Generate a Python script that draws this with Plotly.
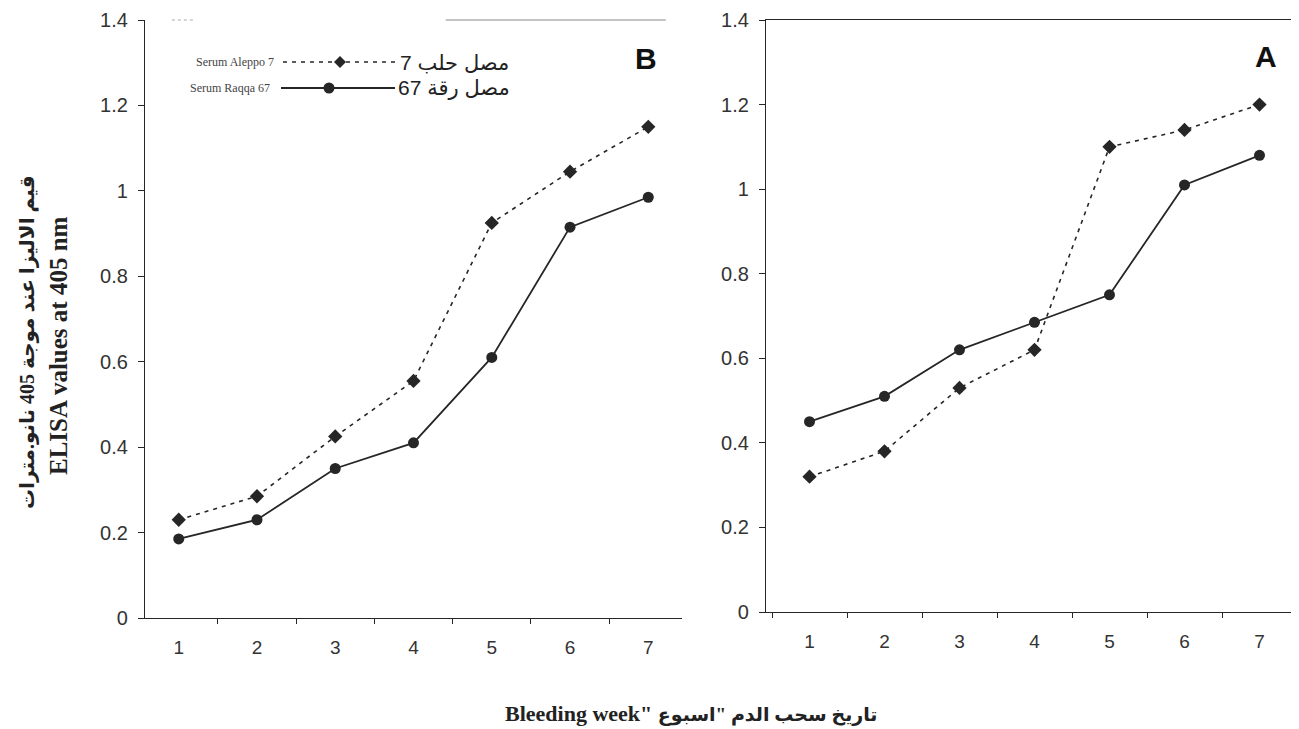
import plotly.graph_objects as go

weeks = ["1", "2", "3", "4", "5", "6", "7"]
tick_labels_y = ["0", "0.2", "0.4", "0.6", "0.8", "1", "1.2", "1.4"]
tick_vals_y = [0, 0.2, 0.4, 0.6, 0.8, 1.0, 1.2, 1.4]

# Panel B (left)
b_aleppo = [0.23, 0.285, 0.425, 0.555, 0.925, 1.045, 1.15]
b_raqqa = [0.185, 0.23, 0.35, 0.41, 0.61, 0.915, 0.985]
# Panel A (right)
a_aleppo = [0.32, 0.38, 0.53, 0.62, 1.10, 1.14, 1.20]
a_raqqa = [0.45, 0.51, 0.62, 0.685, 0.75, 1.01, 1.08]

name_aleppo_ar = "مصل حلب 7"
name_raqqa_ar = "مصل رقة 67"
name_aleppo_en = "Serum Aleppo 7"
name_raqqa_en = "Serum Raqqa 67"

ytitle_ar = "قيم الاليزا عند موجة 405 نانو.مترات"
ytitle_en = "ELISA values at 405 nm"
xtitle_en = 'Bleeding week" '
xtitle_ar = 'تاريخ سحب الدم "اسبوع'

INK = "#262626"
DASH = "4px,5px"

fig = go.Figure()

def add_pair(aleppo, raqqa, xa, ya):
    fig.add_trace(go.Scatter(
        x=weeks, y=aleppo, xaxis=xa, yaxis=ya, mode="lines+markers",
        name=name_aleppo_ar, showlegend=False,
        line=dict(color=INK, width=1.6, dash=DASH),
        marker=dict(symbol="diamond", size=11, color=INK)))
    fig.add_trace(go.Scatter(
        x=weeks, y=raqqa, xaxis=xa, yaxis=ya, mode="lines+markers",
        name=name_raqqa_ar, showlegend=False,
        line=dict(color=INK, width=1.8),
        marker=dict(symbol="circle", size=11, color=INK)))

add_pair(b_aleppo, b_raqqa, "x", "y")
add_pair(a_aleppo, a_raqqa, "x2", "y2")

# page body has an 8px margin -> map screenshot pixels to paper fractions
OFF = 8
W, H = 1299, 729
def px_x(p):
    return max(0.0, min(1.0, (p - OFF) / W))
def px_y(p):
    return max(0.0, min(1.0, 1 - (p - OFF) / H))

xtickfont = dict(family="Liberation Sans, Arial, sans-serif", size=19, color="#333333")
ytickfont = dict(family="Liberation Sans, Arial, sans-serif", size=20, color="#333333")

xcommon = dict(type="category", tickson="boundaries", ticks="outside", ticklen=5,
               tickcolor=INK, showline=True, linecolor=INK, linewidth=1.3,
               showgrid=False, zeroline=False, tickfont=xtickfont,
               ticklabelstandoff=12, categoryorder="array", categoryarray=weeks)
ycommon = dict(range=[0, 1.4], tickvals=tick_vals_y, ticktext=tick_labels_y,
               ticks="outside", ticklen=6, tickcolor=INK, showline=True,
               linecolor=INK, linewidth=1.3, showgrid=False, zeroline=False,
               tickfont=ytickfont, ticklabelstandoff=6)

fig.update_layout(
    width=W, height=H,
    margin=dict(l=0, r=0, t=0, b=0, autoexpand=False),
    paper_bgcolor="white", plot_bgcolor="white",
    showlegend=False,
    xaxis=dict(domain=[px_x(145), px_x(682)], anchor="y", **xcommon),
    yaxis=dict(domain=[px_y(618), px_y(20)], anchor="x", **ycommon),
    xaxis2=dict(domain=[px_x(766), px_x(1297)], anchor="y2", mirror=True,
                range=[-0.58, 6.5], **xcommon),
    yaxis2=dict(domain=[px_y(612), px_y(20)], anchor="x2", mirror=True, **ycommon),
)

def ann(text, x, y, size, family, xanchor="center", angle=0, color="#222222"):
    return dict(text=text, x=px_x(x), y=px_y(y), xref="paper", yref="paper",
                xanchor=xanchor, yanchor="middle", textangle=angle, showarrow=False,
                font=dict(family=family, size=size, color=color))

SERIF = "Liberation Serif, Times New Roman, serif"
SANS = "Liberation Sans, Arial, DejaVu Sans, sans-serif"
AR = "Liberation Serif, DejaVu Sans, serif"

annotations = [
    # legend texts
    ann(name_aleppo_en, 276, 62, 12, SERIF, xanchor="right", color="#444444"),
    ann(name_raqqa_en, 272, 88, 12, SERIF, xanchor="right", color="#444444"),
    ann(name_aleppo_ar, 398, 62, 21, SANS, xanchor="left"),
    ann(name_raqqa_ar, 396, 88, 21, SANS, xanchor="left"),
    # panel letters
    ann("<b>B</b>", 646, 58, 30, SANS, color="#111111"),
    ann("<b>A</b>", 1266, 56, 30, SANS, color="#111111"),
    # axis titles
    ann("<b>" + ytitle_ar + "</b>", 27, 342, 20, AR, angle=-90),
    ann("<b>" + ytitle_en + "</b>", 58, 346, 25, SERIF, angle=-90),
    ann("<b>" + xtitle_en + "<span style='font-size:19px'>" + xtitle_ar + "</span></b>",
        503, 713, 22, AR, xanchor="left"),
]
fig.update_layout(annotations=annotations)

# legend keys (drawn as decoration shapes in page pixels)
def seg(x0, x1, y, dash=None, width=1.6):
    fig.add_shape(type="line", xref="paper", yref="paper",
                  x0=px_x(x0), x1=px_x(x1), y0=px_y(y), y1=px_y(y),
                  line=dict(color=INK, width=width, dash=dash))

seg(283, 396, 62, dash=DASH)
seg(281, 395, 88, width=1.8)
cx, cy, r = 340, 62, 6
fig.add_shape(type="path", xref="paper", yref="paper",
              path="M{},{} L{},{} L{},{} L{},{} Z".format(
                  px_x(cx - r), px_y(cy), px_x(cx), px_y(cy - r),
                  px_x(cx + r), px_y(cy), px_x(cx), px_y(cy + r)),
              fillcolor=INK, line=dict(color=INK, width=0))
cx, cy, r = 329, 88, 5.5
fig.add_shape(type="circle", xref="paper", yref="paper",
              x0=px_x(cx - r), x1=px_x(cx + r), y0=px_y(cy + r), y1=px_y(cy - r),
              fillcolor=INK, line=dict(color=INK, width=0))

# faint, partly broken top border of the left panel (as in the scanned original)
fig.add_shape(type="line", xref="x domain", yref="y domain", x0=0.56, x1=0.97, y0=1, y1=1,
              line=dict(color="#888888", width=1))
fig.add_shape(type="line", xref="x domain", yref="y domain", x0=0.05, x1=0.09, y0=1, y1=1,
              line=dict(color="#aaaaaa", width=1, dash="3px,3px"))

fig.write_html("out.html")
